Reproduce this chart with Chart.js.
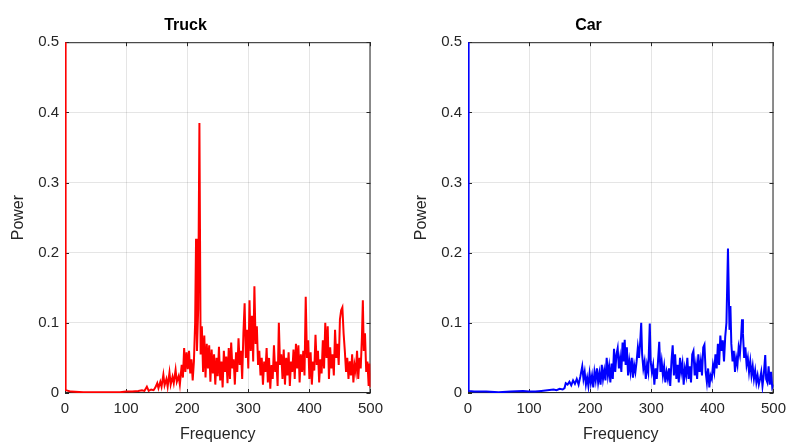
<!DOCTYPE html>
<html>
<head>
<meta charset="utf-8">
<script src="https://cdn.jsdelivr.net/npm/chart.js@4/dist/chart.umd.min.js"></script>
<style>
  html, body { margin: 0; padding: 0; background: #fff; overflow: hidden; }
  .panel { position: absolute; top: 0; width: 390px; height: 444px; }
  #leftPanel { left: 0; }
  #rightPanel { left: 403px; }
</style>
</head>
<body>
<div class="panel" id="leftPanel"><canvas id="truckChart"></canvas></div>
<div class="panel" id="rightPanel"><canvas id="carChart"></canvas></div>
<script>
// tick values
const freqTicks = [0, 100, 200, 300, 400, 500];
const powerTicks = [0, 0.1, 0.2, 0.3, 0.4, 0.5];

// Truck spectrum
const truckFreq = [0, 1, 10, 30, 60, 90, 100, 110, 120, 126, 130, 134, 137, 141, 145, 148, 151, 153, 156, 158,
  161, 163, 166, 168, 171, 173, 176, 178, 181, 183, 186, 188, 191, 193, 195, 197, 199, 201, 203, 205,
  207, 209, 211, 213, 214.5, 216, 218, 220, 222, 224, 226, 228, 230, 232, 234, 236, 238, 240, 242, 244,
  246, 248, 250, 252, 254, 256, 258, 260, 262, 264, 266, 268, 270, 272, 274, 276, 278, 280, 282, 284,
  286, 288, 290, 292, 294, 296, 298, 300, 302, 304, 306, 308, 310, 312, 314, 316, 318, 320, 322, 324,
  326, 328, 330, 332, 334, 336, 338, 340, 342, 344, 346, 348, 350, 352, 354, 356, 358, 360, 362, 364,
  366, 368, 370, 372, 374, 376, 378, 380, 382, 384, 386, 388, 390, 392, 394, 396, 398, 400, 402, 404,
  406, 408, 410, 412, 414, 416, 418, 420, 422, 424, 426, 428, 430, 432, 434, 436, 438, 440, 442, 444,
  446, 448, 450, 452, 454, 456, 458, 460, 462, 464, 466, 468, 470, 472, 474, 476, 478, 480, 482, 484,
  486, 487.5, 489, 491, 493, 495, 497, 498.5, 500];
const truckPower = [0.62, 0.004, 0.002, 0.001, 0.001, 0.001, 0.002, 0.002, 0.003, 0.004, 0.003, 0.009, 0.003, 0.005, 0.004, 0.008, 0.014, 0.007, 0.016, 0.009,
  0.026, 0.011, 0.02, 0.009, 0.029, 0.012, 0.023, 0.014, 0.033, 0.016, 0.024, 0.012, 0.04, 0.022, 0.064, 0.03, 0.058, 0.034, 0.06, 0.028,
  0.048, 0.018, 0.045, 0.1, 0.22, 0.06, 0.12, 0.385, 0.055, 0.095, 0.03, 0.082, 0.022, 0.07, 0.035, 0.068, 0.016, 0.062, 0.028, 0.055,
  0.012, 0.05, 0.024, 0.066, 0.018, 0.045, 0.008, 0.06, 0.03, 0.052, 0.014, 0.064, 0.02, 0.072, 0.035, 0.048, 0.012, 0.058, 0.03, 0.078,
  0.04, 0.06, 0.02, 0.085, 0.128, 0.05, 0.09, 0.035, 0.132, 0.06, 0.11, 0.045, 0.152, 0.07, 0.095, 0.04, 0.06, 0.025, 0.05, 0.012,
  0.045, 0.03, 0.064, 0.015, 0.05, 0.006, 0.04, 0.02, 0.068, 0.03, 0.045, 0.01, 0.1, 0.04, 0.055, 0.02, 0.062, 0.012, 0.05, 0.025,
  0.058, 0.01, 0.045, 0.03, 0.062, 0.02, 0.07, 0.035, 0.068, 0.015, 0.055, 0.03, 0.06, 0.025, 0.137, 0.05, 0.075, 0.02, 0.058, 0.012,
  0.045, 0.032, 0.083, 0.04, 0.06, 0.015, 0.048, 0.028, 0.075, 0.035, 0.1, 0.05, 0.095, 0.02, 0.065, 0.035, 0.055, 0.025, 0.09, 0.05,
  0.07, 0.04, 0.105, 0.118, 0.122, 0.085, 0.06, 0.03, 0.05, 0.02, 0.045, 0.025, 0.055, 0.015, 0.04, 0.03, 0.06, 0.02, 0.05, 0.035,
  0.08, 0.132, 0.06, 0.085, 0.03, 0.045, 0.01, 0.042, 0.008];

// Car spectrum
const carFreq = [0, 1, 10, 30, 50, 70, 90, 100, 110, 120, 130, 140, 145, 150, 155, 158, 160, 163, 166, 169,
  172, 175, 178, 181, 184, 187, 189, 191, 193, 195, 197, 199, 201, 203, 205, 207, 209, 211, 213, 215,
  217, 219, 221, 223, 225, 227, 229, 231, 233, 235, 237, 239, 241, 243, 245, 247, 249, 251, 253, 255,
  256.5, 258, 260, 262, 264, 266, 268, 270, 272, 274, 276, 278, 280, 282, 283.5, 285, 287, 289, 291, 293,
  295, 297.5, 299, 301, 303, 305, 307, 309, 311, 313, 315, 317, 319, 321, 323, 325, 327, 329, 331, 333,
  335, 337, 339, 341, 343, 345, 347, 349, 351, 353, 355, 357, 359, 361, 363, 365, 367, 369, 371, 373,
  375, 377, 379, 381, 383, 385, 387, 389, 391, 393, 395, 397, 399, 401, 403, 405, 407, 409, 411, 413,
  415, 417, 419, 421, 423, 425.5, 428, 429.5, 431, 433, 435, 437, 439, 441, 443, 445, 447, 448.5, 450, 452,
  454, 456, 458, 460, 462, 464, 466, 468, 470, 472, 474, 476, 478, 480, 482, 484, 486.5, 488, 490, 492,
  494, 496, 498, 500];
const carPower = [0.62, 0.003, 0.002, 0.002, 0.001, 0.002, 0.003, 0.002, 0.002, 0.003, 0.004, 0.005, 0.004, 0.006, 0.005, 0.007, 0.014, 0.012, 0.016, 0.011,
  0.018, 0.013, 0.02, 0.012, 0.024, 0.038, 0.02, 0.03, 0.012, 0.022, 0.01, 0.028, 0.014, 0.025, 0.008, 0.03, 0.018, 0.035, 0.015, 0.028,
  0.012, 0.04, 0.02, 0.032, 0.018, 0.05, 0.025, 0.038, 0.015, 0.042, 0.02, 0.063, 0.03, 0.055, 0.064, 0.035, 0.05, 0.03, 0.072, 0.045,
  0.076, 0.04, 0.065, 0.025, 0.045, 0.03, 0.05, 0.022, 0.04, 0.03, 0.045, 0.065, 0.05, 0.075, 0.1, 0.055, 0.035, 0.045, 0.02, 0.04,
  0.03, 0.099, 0.045, 0.03, 0.04, 0.012, 0.035, 0.02, 0.045, 0.073, 0.03, 0.045, 0.025, 0.038, 0.015, 0.03, 0.02, 0.035, 0.01, 0.045,
  0.068, 0.025, 0.055, 0.02, 0.04, 0.015, 0.05, 0.03, 0.042, 0.012, 0.035, 0.025, 0.05, 0.02, 0.038, 0.015, 0.055, 0.06, 0.025, 0.04,
  0.02, 0.055, 0.03, 0.045, 0.025, 0.065, 0.069, 0.03, 0.015, 0.035, 0.008, 0.025, 0.02, 0.04, 0.03, 0.055, 0.035, 0.07, 0.04, 0.082,
  0.06, 0.075, 0.045, 0.08, 0.1, 0.206, 0.09, 0.124, 0.07, 0.045, 0.06, 0.03, 0.05, 0.04, 0.065, 0.055, 0.08, 0.105, 0.085, 0.05,
  0.065, 0.04, 0.05, 0.03, 0.045, 0.025, 0.038, 0.02, 0.032, 0.015, 0.025, 0.012, 0.02, 0.03, 0.01, 0.025, 0.054, 0.02, 0.015, 0.038,
  0.012, 0.03, 0.008, 0.012];

const fontFamily = '"Liberation Sans", Arial, Helvetica, sans-serif';
const axisColor = '#262626';

// MATLAB-like box with inward ticks
const boxPlugin = {
    id: 'box',
    beforeDatasetsDraw(chart) {
        const { ctx, chartArea: a, scales } = chart;
        ctx.save();
        ctx.strokeStyle = axisColor;
        ctx.lineWidth = 1;
        ctx.strokeRect(a.left + 0.5, a.top + 0.5, a.right - a.left - 1, a.bottom - a.top - 1);
        ctx.beginPath();
        freqTicks.forEach(v => {
            const x = Math.round(scales.x.getPixelForValue(v)) + 0.5;
            ctx.moveTo(x, a.bottom); ctx.lineTo(x, a.bottom - 4);
            ctx.moveTo(x, a.top); ctx.lineTo(x, a.top + 4);
        });
        powerTicks.forEach(v => {
            const y = Math.round(scales.y.getPixelForValue(v)) + 0.5;
            ctx.moveTo(a.left, y); ctx.lineTo(a.left + 4, y);
            ctx.moveTo(a.right, y); ctx.lineTo(a.right - 4, y);
        });
        ctx.stroke();
        ctx.restore();
    }
};

function makeChart(id, title, freq, power, color) {
    const points = freq.map((f, i) => ({ x: f, y: power[i] }));
    return new Chart(document.getElementById(id), {
        type: 'line',
        data: {
            datasets: [{
                data: points,
                borderColor: color,
                borderWidth: 2,
                pointRadius: 0,
                tension: 0
            }]
        },
        options: {
            responsive: true,
            maintainAspectRatio: false,
            animation: false,
            layout: { padding: { left: 0, right: 19, top: 0, bottom: 0 } },
            plugins: {
                legend: { display: false },
                tooltip: { enabled: false },
                title: {
                    display: true,
                    text: title,
                    color: '#000',
                    font: { family: fontFamily, size: 16, weight: 'bold' },
                    padding: { top: 16, bottom: 7 }
                }
            },
            scales: {
                x: {
                    type: 'linear',
                    min: 0,
                    max: 500,
                    afterBuildTicks: s => { s.ticks = freqTicks.map(v => ({ value: v })); },
                    afterFit: s => { s.height = 51; },
                    grid: { color: 'rgba(38,38,38,0.12)', drawTicks: false },
                    border: { display: false },
                    ticks: { color: axisColor, font: { family: fontFamily, size: 15 }, padding: 7, maxRotation: 0 },
                    title: { display: true, text: 'Frequency', color: axisColor, font: { family: fontFamily, size: 16 }, padding: 0 }
                },
                y: {
                    min: 0,
                    max: 0.5,
                    afterBuildTicks: s => { s.ticks = powerTicks.map(v => ({ value: v })); },
                    afterFit: s => { s.width = 65; },
                    grid: { color: 'rgba(38,38,38,0.12)', drawTicks: false },
                    border: { display: false },
                    ticks: { color: axisColor, font: { family: fontFamily, size: 15 }, padding: 6 },
                    title: { display: true, text: 'Power', color: axisColor, font: { family: fontFamily, size: 16 }, padding: { top: 9, bottom: 0 } }
                }
            }
        },
        plugins: [boxPlugin]
    });
}

makeChart('truckChart', 'Truck', truckFreq, truckPower, '#ff0000');
makeChart('carChart', 'Car', carFreq, carPower, '#0000ff');
</script>
</body>
</html>
